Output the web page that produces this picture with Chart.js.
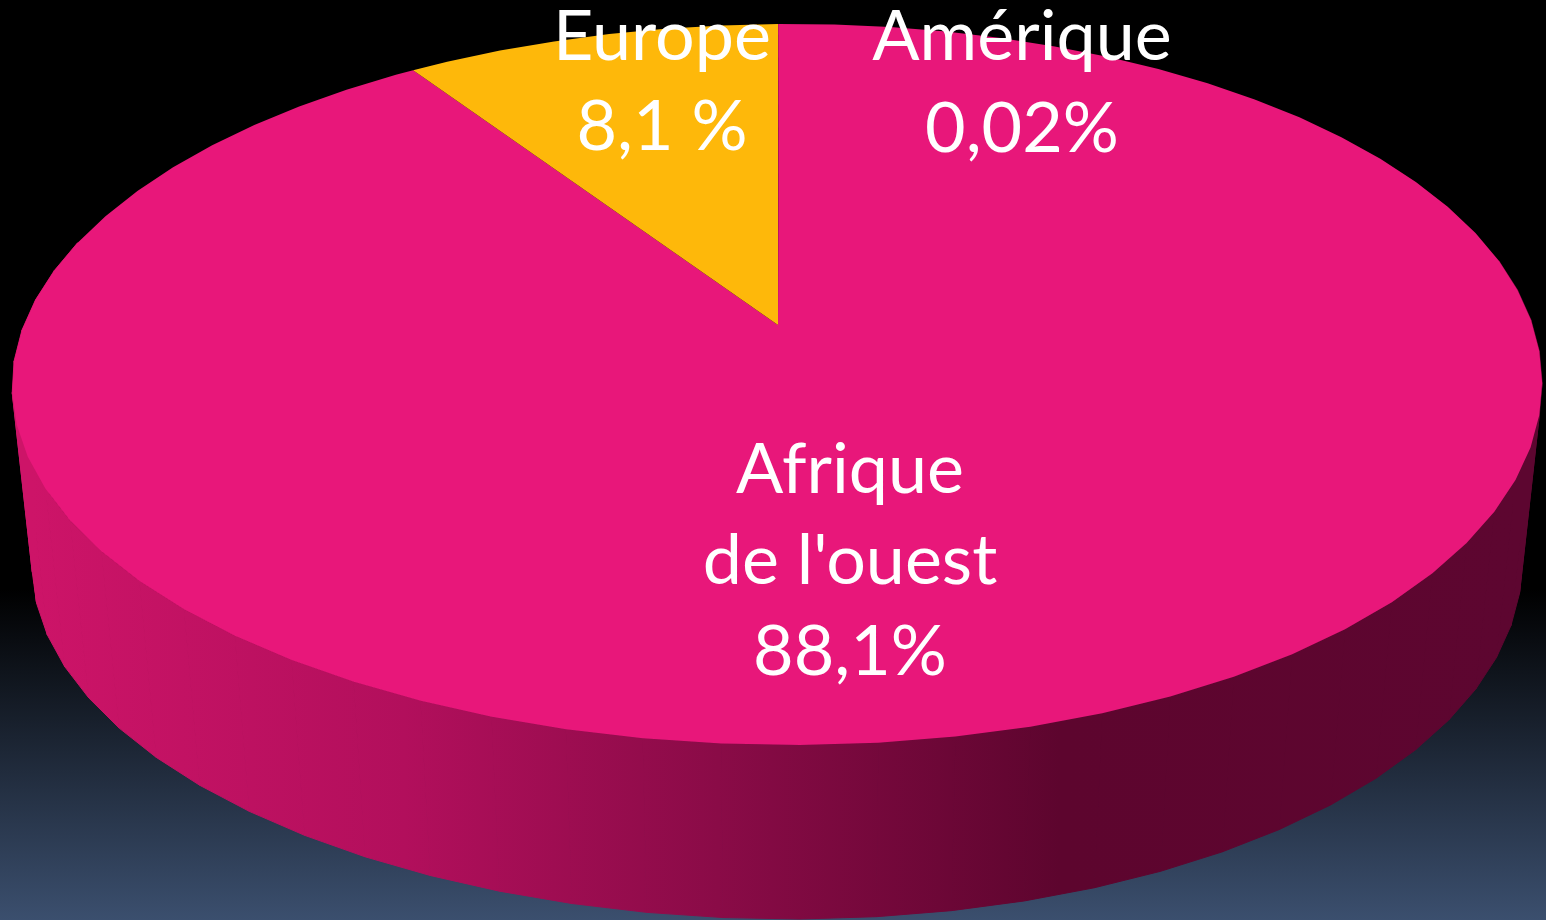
<!DOCTYPE html>
<html lang="fr">
<head>
    <meta charset="utf-8">
    <script src="https://cdnjs.cloudflare.com/ajax/libs/Chart.js/4.4.1/chart.umd.min.js"></script>
    <style>
        html, body { margin: 0; height: 100%; overflow: hidden; }
        body { background: linear-gradient(#000 0, #000 64%, #3b4f6e 100%); }
        canvas { display: block; }
    </style>
</head>
<body>

<canvas id="pie" width="1546" height="920"></canvas>

<script>
    const categories = ["Amérique", "Afrique de l'ouest", "Europe"];
    // slice sizes as measured on the drawing; the Europe wedge is drawn a bit wider than its printed 8,1 %
    const sliceShare = [0.02, 90.73, 9.25];
    const sliceColors = ["#e8177a", "#e8177a", "#feb80a"];

    // text printed on the slices
    const labelLines = [["Amérique", "0,02%"], ["Afrique", "de l'ouest", "88,1%"], ["Europe", "8,1 %"]];
    const labelX = [1022, 850, 662];
    const labelY = [60, 493, 60];
    const lineGap = [92, 91, 90];

    // perspective of the disc: the centre of the pie lands above the centre of the ellipse
    const tilt = -0.165;
    const topFace = { x: 778, y: 325, rx: 754.5, ry: 350.7 };
    const bottomFace = { x: 778, y: 505, rx: 734.8, ry: 345.7 };
    const facet = Math.PI / 36; // the rim of the reference is a polygon, 5 degrees per side

    function project(face, angle) {
        const u = Math.cos(angle), v = Math.sin(angle);
        const w = 1 + tilt * v;
        // small lean of the ellipse: front pushed right, right side raised
        const leanX = 22 * Math.max(0, v) * v - 1.5 * Math.abs(u);
        const leanY = -5 * u;
        return { x: face.x + face.rx * u / w + leanX, y: face.y + face.ry * v / w + leanY };
    }

    // arc ends plus every facet corner in between
    function rimAngles(start, end) {
        const list = [start];
        let k = Math.floor((start + Math.PI / 2) / facet + 1e-6) + 1;
        while (k * facet - Math.PI / 2 < end - 1e-6) {
            list.push(k * facet - Math.PI / 2);
            k++;
        }
        list.push(end);
        return list;
    }

    function wallGradient(ctx) {
        const g = ctx.createLinearGradient(32, 0, 1522, 0);
        g.addColorStop(0, "#cd1468");
        g.addColorStop(0.25, "#b20f5c");
        g.addColorStop(0.46, "#8a0b47");
        g.addColorStop(0.69, "#5d052e");
        g.addColorStop(1, "#5d0630");
        return g;
    }

    const disc3d = {
        id: "disc3d",
        beforeDatasetDraw(chart, args) {
            const ctx = chart.ctx;
            const arcs = chart.getDatasetMeta(args.index).data;
            const grad = wallGradient(ctx);

            // side wall, one quad per facet
            ctx.save();
            ctx.fillStyle = grad;
            ctx.strokeStyle = grad;
            ctx.lineWidth = 1;
            arcs.forEach(function(arc) {
                const angles = rimAngles(arc.startAngle, arc.endAngle);
                for (let i = 0; i < angles.length - 1; i++) {
                    if (Math.sin(angles[i]) < -0.2) continue;
                    const p0 = project(topFace, angles[i]), p1 = project(topFace, angles[i + 1]);
                    const q0 = project(bottomFace, angles[i]), q1 = project(bottomFace, angles[i + 1]);
                    ctx.beginPath();
                    ctx.moveTo(p0.x, p0.y);
                    ctx.lineTo(p1.x, p1.y);
                    ctx.lineTo(q1.x, q1.y);
                    ctx.lineTo(q0.x, q0.y);
                    ctx.closePath();
                    ctx.fill();
                    ctx.stroke();
                }
            });

            // top face
            arcs.forEach(function(arc, i) {
                ctx.beginPath();
                ctx.moveTo(topFace.x, topFace.y);
                rimAngles(arc.startAngle, arc.endAngle).forEach(function(a) {
                    const p = project(topFace, a);
                    ctx.lineTo(p.x, p.y);
                });
                ctx.closePath();
                ctx.fillStyle = sliceColors[i];
                ctx.fill();
            });
            ctx.restore();
            return false;
        },
        afterDraw(chart) {
            const ctx = chart.ctx;
            ctx.save();
            ctx.fillStyle = "#fff";
            ctx.textAlign = "center";
            ctx.font = "70px Lato";
            labelLines.forEach(function(lines, i) {
                lines.forEach(function(line, j) {
                    ctx.fillText(line, labelX[i], labelY[i] + j * lineGap[i]);
                });
            });
            ctx.restore();
        }
    };

    const ch = new Chart(document.getElementById("pie"), {
        type: "pie",
        data: {
            labels: categories,
            datasets: [{ data: sliceShare, backgroundColor: sliceColors, borderWidth: 0 }]
        },
        options: {
            responsive: false,
            animation: false,
            events: [],
            plugins: { legend: { display: false }, tooltip: { enabled: false } }
        },
        plugins: [disc3d]
    });
</script>

</body>
</html>
